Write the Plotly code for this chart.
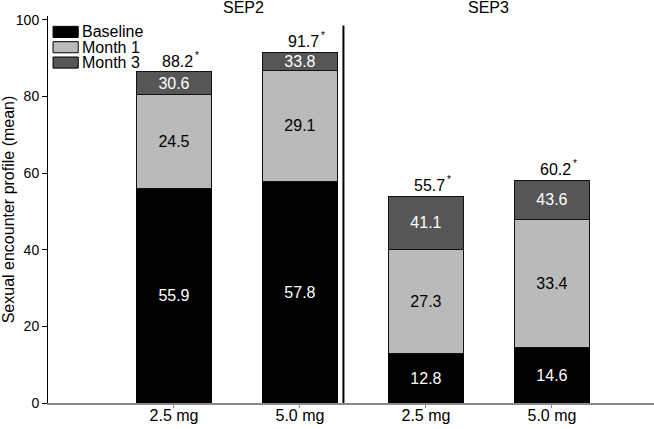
import plotly.graph_objects as go

# data
doses = ["2.5 mg", "5.0 mg", "2.5 mg", "5.0 mg"]
baseline = [55.9, 57.8, 12.8, 14.6]
month1_change = [24.5, 29.1, 27.3, 33.4]
month3_change = [30.6, 33.8, 41.1, 43.6]
pct_labels = ["88.2", "91.7", "55.7", "60.2"]
groups = ["SEP2", "SEP3"]

x = list(range(len(doses)))
# month 3 segment sits on top of month 1 (both measured from baseline)
month3_extra = [m3 - m1 for m1, m3 in zip(month1_change, month3_change)]
tops = [b + m3 for b, m3 in zip(baseline, month3_change)]

FONT = "Liberation Sans, Arial, sans-serif"
FS = 16
bar_w = 0.595

fig = go.Figure()

fig.add_trace(go.Bar(
    x=x, y=baseline, name="Baseline",
    marker=dict(color="#000000", line=dict(color="#000000", width=1)),
    text=[f"{v:.1f}" for v in baseline],
    textposition="inside", insidetextanchor="middle",
    textfont=dict(color="white", size=FS, family=FONT),
    width=bar_w,
))
fig.add_trace(go.Bar(
    x=x, y=month1_change, name="Month 1",
    marker=dict(color="#bababa", line=dict(color="#111111", width=1)),
    text=[f"{v:.1f}" for v in month1_change],
    textposition="inside", insidetextanchor="middle",
    textfont=dict(color="black", size=FS, family=FONT),
    width=bar_w,
))
fig.add_trace(go.Bar(
    x=x, y=month3_extra, name="Month 3",
    marker=dict(color="#565656", line=dict(color="#111111", width=1)),
    text=[f"{v:.1f}" for v in month3_change],
    textposition="inside", insidetextanchor="middle",
    textfont=dict(color="white", size=FS, family=FONT),
    width=bar_w,
))

# percentage labels above bars, with a small asterisk
for xi, top, lab in zip(x, tops, pct_labels):
    fig.add_annotation(
        x=xi, y=top, text=lab, showarrow=False,
        xanchor="center", yanchor="bottom", yshift=0, xshift=4,
        font=dict(size=FS, color="black", family=FONT),
    )
    fig.add_annotation(
        x=xi, y=top, text="*", showarrow=False,
        xanchor="left", yanchor="bottom", yshift=9, xshift=19,
        font=dict(size=10, color="black", family=FONT),
    )

# group titles
for gx, g in zip([0.55, 2.5], groups):
    fig.add_annotation(
        x=gx, y=1.0207, xref="x", yref="paper", text=g, showarrow=False,
        yanchor="middle", font=dict(size=FS, color="black", family=FONT),
    )

# divider between SEP2 and SEP3
fig.add_shape(type="line", x0=1.345, x1=1.345, y0=0, y1=98.5,
              xref="x", yref="y", line=dict(color="black", width=2))

# hand drawn legend (wide boxes like the original)
legend_items = [("Baseline", "#000000"), ("Month 1", "#bababa"), ("Month 3", "#565656")]
for i, (name, col) in enumerate(legend_items):
    y_top = 98.3 - i * 4.0
    fig.add_shape(type="rect", x0=-0.96, x1=-0.76, y0=y_top - 2.9, y1=y_top,
                  xref="x", yref="y", fillcolor=col,
                  line=dict(color="black", width=1))
    fig.add_annotation(x=-0.75, y=y_top - 1.45, text=name, showarrow=False,
                       xanchor="left", yanchor="middle",
                       font=dict(size=FS, color="black", family=FONT))

fig.update_layout(
    barmode="stack",
    width=654, height=429,
    margin=dict(l=48, r=0, t=16, b=26),
    paper_bgcolor="white", plot_bgcolor="white",
    showlegend=False,
    uniformtext=dict(minsize=FS, mode="show"),
    font=dict(family=FONT, color="black"),
)
fig.update_xaxes(
    range=[-1.0, 3.81], tickvals=x, ticktext=doses,
    showline=True, linecolor="#8a8a8a", linewidth=2,
    ticks="outside", ticklen=3, tickcolor="#8a8a8a",
    ticklabelstandoff=-6,
    showgrid=False, zeroline=False, automargin=False,
    tickfont=dict(size=FS, family=FONT, color="black"),
)
fig.update_yaxes(
    range=[0, 101], tickvals=[0, 20, 40, 60, 80, 100],
    showline=True, linecolor="black", linewidth=1,
    ticks="outside", ticklen=5, tickcolor="black",
    showgrid=False, zeroline=False, automargin=False,
    tickfont=dict(size=14, family=FONT, color="black"),
    title=dict(text="Sexual encounter profile (mean)", standoff=4,
               font=dict(size=16, family=FONT, color="black")),
)

# drop the default page margin so the figure sits at the window corner
fig.write_html("out.html", config={"displayModeBar": False},
               post_script="document.body.style.margin='0';")
